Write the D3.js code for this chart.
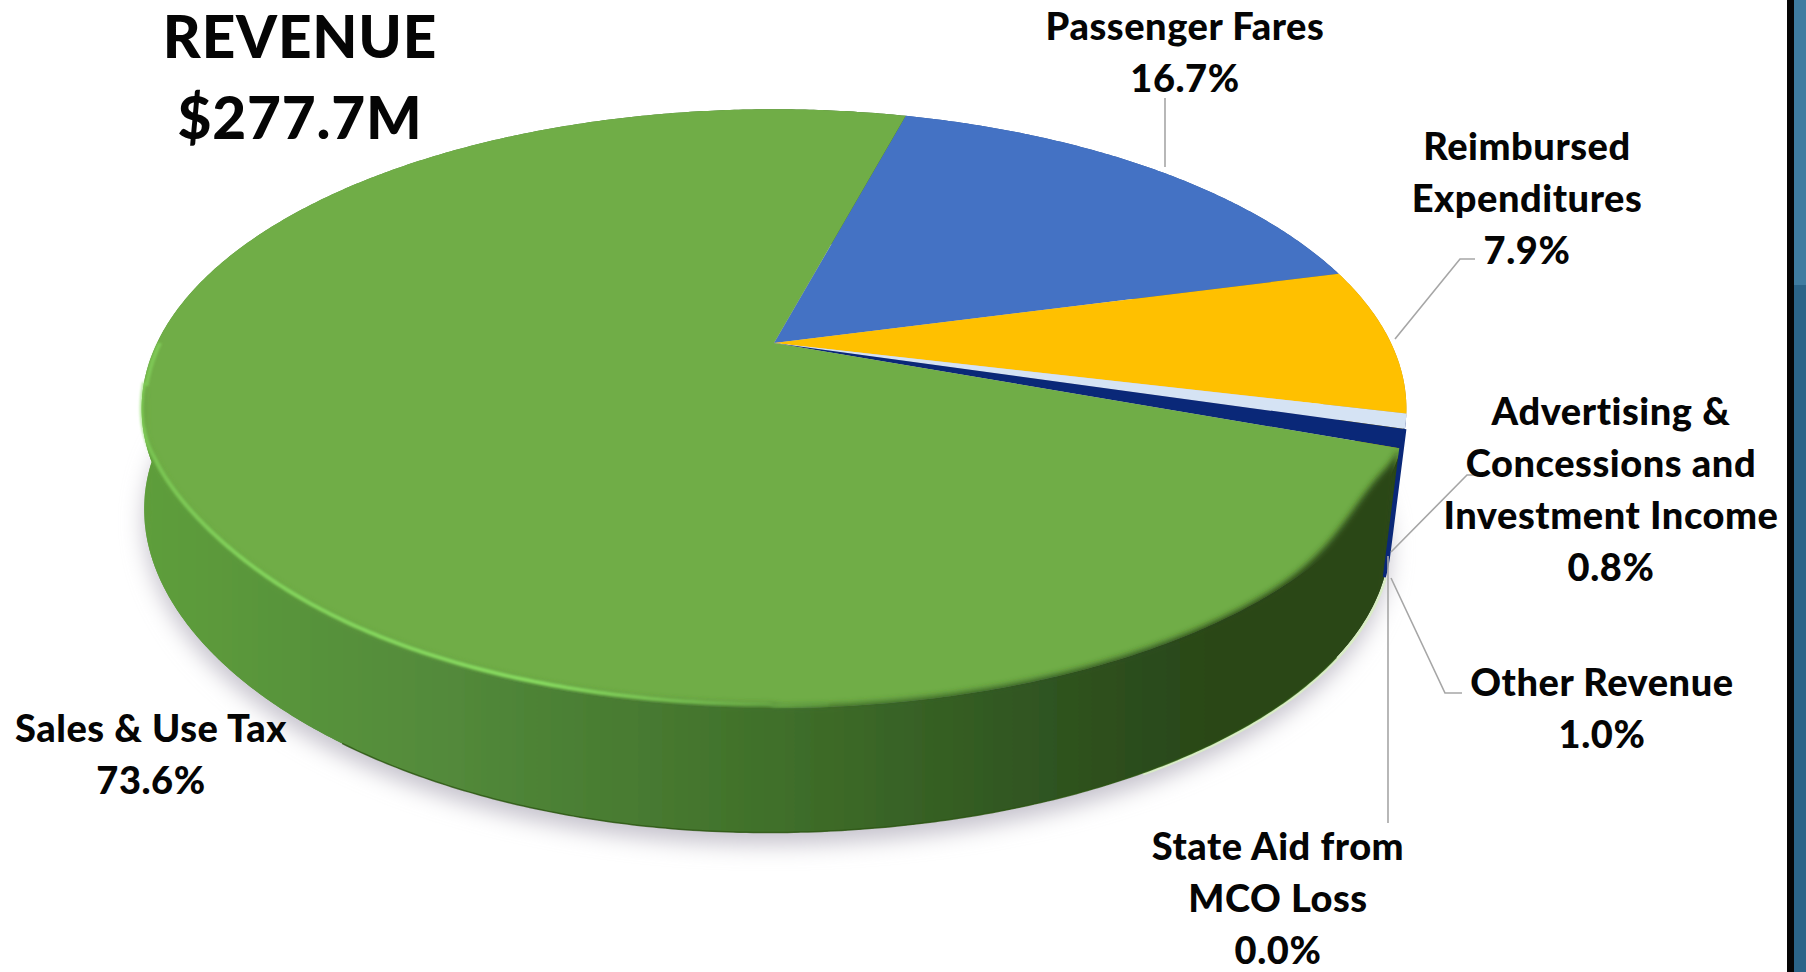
<!DOCTYPE html>
<html>
<head>
<meta charset="utf-8">
<script src="https://cdn.jsdelivr.net/npm/d3@7/dist/d3.min.js"></script>
<style>
html,body{margin:0;padding:0;background:#fff;overflow:hidden}
text{font-family:Lato,"Open Sans",sans-serif;font-weight:900;fill:#050505;text-anchor:middle}
</style>
</head>
<body>
<svg id="chart" width="1806" height="972"></svg>
<script>
// Revenue shares, in percent, clockwise from the back of the disc
const categories = ["Passenger Fares","Reimbursed Expenditures","Advertising & Concessions and Investment Income","Other Revenue","State Aid from MCO Loss","Sales & Use Tax"];
const shares = [16.7,7.9,0.8,1.0,0.0,73.6];
const shareLabels = ["16.7%","7.9%","0.8%","1.0%","0.0%","73.6%"];
const titleLines = ["REVENUE","$277.7M"];

const sliceColors = ["#4472c4","#ffc000","#d5e3f4","#0a2878","#0a2878","#70ad47"];
const wallColors = ["#2f5597","#bf9000","#0a2878","#0a2878","#0a2878","url(#wallShade)"];

// Label placement: wrapped lines, anchor x, first baseline
const labelLayout = [
  {lines:["Passenger Fares"],x:1185,y:40},
  {lines:["Reimbursed","Expenditures"],x:1527,y:160},
  {lines:["Advertising &","Concessions and","Investment Income"],x:1611,y:425},
  {lines:["Other Revenue"],x:1602,y:696},
  {lines:["State Aid from","MCO Loss"],x:1278,y:860},
  {lines:["Sales & Use Tax"],x:151,y:742}
];
// Leader lines: elbow points from the label to where they meet the disc
const leaderLayout = [
  {pts:[[1165,98],[1165,167]]},
  {pts:[[1475,259],[1460,259],[1395,339]]},
  {pts:[[1480,475],[1467,475],[1391,552]]},
  {pts:[[1462,693],[1445,693],[1391,578]]},
  {pts:[[1388,823],[1388,556]]}
];

const svg = d3.select("#chart");
const defs = svg.append("defs");

// Perspective disc: the hub sits above the centre of the projected ellipse
const disc = {cx:774,cy:343,rx:617,ry:285,persp:0.2192};
const base = {scale:0.985,dx:-7,dy:130,leftRise:30};
const rimMidY = disc.cy + disc.ry*(1/(1-disc.persp)-1/(1+disc.persp))/2;
const rimHalfH = disc.ry*(1/(1-disc.persp)+1/(1+disc.persp))/2;

function project(angle, onBase){
  const u = Math.sin(angle), v = -Math.cos(angle);
  const w = 1 - disc.persp*v;
  const s = onBase ? base.scale : 1;
  const drop = onBase ? base.dy - base.leftRise*(u<0 ? u*u : 0) : 0;
  return [
    disc.cx + (onBase ? base.dx : 0) + disc.rx*s*u/w,
    disc.cy + drop + disc.ry*s*v/w
  ];
}
// Where the front wall meets the face: the rim, pulled up near its shoulders
function frontEdge(angle){
  const [x,y] = project(angle,false);
  const f = Math.max(0,(y-rimMidY)/rimHalfH);
  const bell = (mid,width) => Math.exp(-Math.pow((f-mid)/width,2));
  const lift = Math.sin(angle) < 0
    ? (3 + 11*bell(0.4,0.35))*Math.min(1,f/0.2)
    : (2 + 20*bell(0.34,0.15))*Math.min(1,f/0.15);
  return [x, y - lift];
}
const degToRad = d => d*Math.PI/180;
const pie = d3.pie().sort(null).value(d=>d).startAngle(degToRad(15)).endAngle(degToRad(375));
const arcs = pie(shares);
const line = d3.line();

function sampleAngles(a0,a1){
  const n = Math.max(2,Math.ceil(Math.abs(a1-a0)/degToRad(0.5)));
  return d3.range(n+1).map(i=>a0+(a1-a0)*i/n);
}
const rimPoints = (a0,a1,onBase) => sampleAngles(a0,a1).map(a=>project(a,onBase));
const stripPath = d => line(rimPoints(d.startAngle,d.endAngle,false)
    .concat(rimPoints(d.endAngle,d.startAngle,true)))+"Z";

// Gradients, blurs and the disc outline used as a clip
const wall = defs.append("linearGradient").attr("id","wallShade")
  .attr("gradientUnits","userSpaceOnUse").attr("x1",140).attr("x2",1400).attr("y1",0).attr("y2",0);
[[0,"#5e9e3b"],[0.25,"#52893a"],[0.5,"#40702a"],[0.72,"#2f5420"],[0.85,"#2a4718"],[1,"#2a4718"]]
  .forEach(([o,c])=>wall.append("stop").attr("offset",o).attr("stop-color",c));
const glow = defs.append("linearGradient").attr("id","rimGlow")
  .attr("gradientUnits","userSpaceOnUse").attr("x1",141).attr("x2",860).attr("y1",0).attr("y2",0);
[[0,0.55],[0.15,0.85],[0.55,1],[0.8,0.45],[1,0]]
  .forEach(([o,a])=>glow.append("stop").attr("offset",o).attr("stop-color","#88db60").attr("stop-opacity",a));
const addBlur = (id,dev)=>defs.append("filter").attr("id",id)
  .attr("x","-10%").attr("y","-10%").attr("width","120%").attr("height","120%")
  .append("feGaussianBlur").attr("stdDeviation",dev);
addBlur("shadowBlur",11);
addBlur("wallBlur",3);
addBlur("glowBlur",1.3);
const outline = defs.append("clipPath").attr("id","discOutline");
outline.selectAll("path").data(arcs).join("path").attr("d",stripPath);
const fullTurn = degToRad(360);
outline.append("path").attr("d",line(rimPoints(0,fullTurn,false))+"Z");
outline.append("path").attr("d",line(rimPoints(0,fullTurn,true))+"Z");

// Page background and the dark band on the right
svg.append("rect").attr("width",1806).attr("height",972).attr("fill","#ffffff");
svg.append("rect").attr("x",1787).attr("width",7).attr("height",972).attr("fill","#050505");
svg.append("rect").attr("x",1794).attr("width",12).attr("height",285).attr("fill","#3f7ca0");
svg.append("rect").attr("x",1794).attr("y",285).attr("width",12).attr("height",687).attr("fill","#2b6488");

// Drop shadow under the disc
svg.append("path")
  .attr("d",line(rimPoints(0,fullTurn,true).map(([x,y])=>[x,y+12]))+"Z")
  .attr("fill","#c6c3cd").attr("filter","url(#shadowBlur)");

// Pale reflected edge just outside the lower right of the wall
const sales = arcs[5];
svg.append("path")
  .attr("d",line(rimPoints(sales.startAngle,degToRad(150),true).map(([x,y])=>[x+1,y+1])))
  .attr("fill","none").attr("stroke","#d9ecc6").attr("stroke-width",3);

// Side wall, one strip per slice
svg.append("g").selectAll("path").data(arcs).join("path")
  .attr("d",stripPath)
  .attr("fill",(d,i)=>wallColors[i]);

// Top face
svg.append("g").selectAll("path").data(arcs).join("path")
  .attr("d",d=>line([[disc.cx,disc.cy]].concat(rimPoints(d.startAngle,d.endAngle,false)))+"Z")
  .attr("fill",(d,i)=>sliceColors[i]);

// Front wall of the Sales & Use Tax slice, soft where it meets the face
const wallEnd = degToRad(262);
const frontAngles = sampleAngles(sales.startAngle+degToRad(1),wallEnd);
svg.append("g").attr("clip-path","url(#discOutline)").append("path")
  .attr("d",line(frontAngles.map(frontEdge)
    .concat(frontAngles.slice().reverse().map(a=>{const [x,y]=project(a,true);return [x,y+30];})))+"Z")
  .attr("fill","url(#wallShade)").attr("filter","url(#wallBlur)");

// Lit bevel along the front-left of the face
svg.append("path")
  .attr("d",line(sampleAngles(degToRad(176),wallEnd).map(frontEdge)
    .concat(rimPoints(wallEnd,degToRad(270),false).map(([x,y])=>[x+3,y]))))
  .attr("fill","none").attr("stroke","url(#rimGlow)").attr("stroke-width",4).attr("filter","url(#glowBlur)");

// Dark line along the lowest part of the wall
svg.append("path")
  .attr("d",line(rimPoints(degToRad(125),degToRad(215),true)))
  .attr("fill","none").attr("stroke","#2c5512").attr("stroke-width",1.5).attr("stroke-opacity",0.8);

// Navy sliver of the small slices on the right wall
svg.append("path").attr("d",stripPath(arcs[3]))
  .attr("fill","#0a2878").attr("stroke","#0a2878").attr("stroke-width",3);

// Leader lines
svg.append("g").selectAll("path").data(leaderLayout).join("path")
  .attr("d",d=>line(d.pts))
  .attr("fill","none").attr("stroke","#a6a6a6").attr("stroke-width",1.6);

// Category and share labels
const lineGap = 52;
const labels = svg.append("g");
labelLayout.forEach((p,i)=>{
  const rows = p.lines.concat([shareLabels[i]]);
  rows.forEach((t,r)=>labels.append("text").attr("x",p.x).attr("y",p.y+r*lineGap)
    .attr("font-size",38).attr("letter-spacing",0.55).text(t));
});

// Headline
titleLines.forEach((t,i)=>svg.append("text").attr("x",300).attr("y",58+i*81)
  .attr("font-size",58.5).attr("letter-spacing",0.8).text(t));
</script>
</body>
</html>
